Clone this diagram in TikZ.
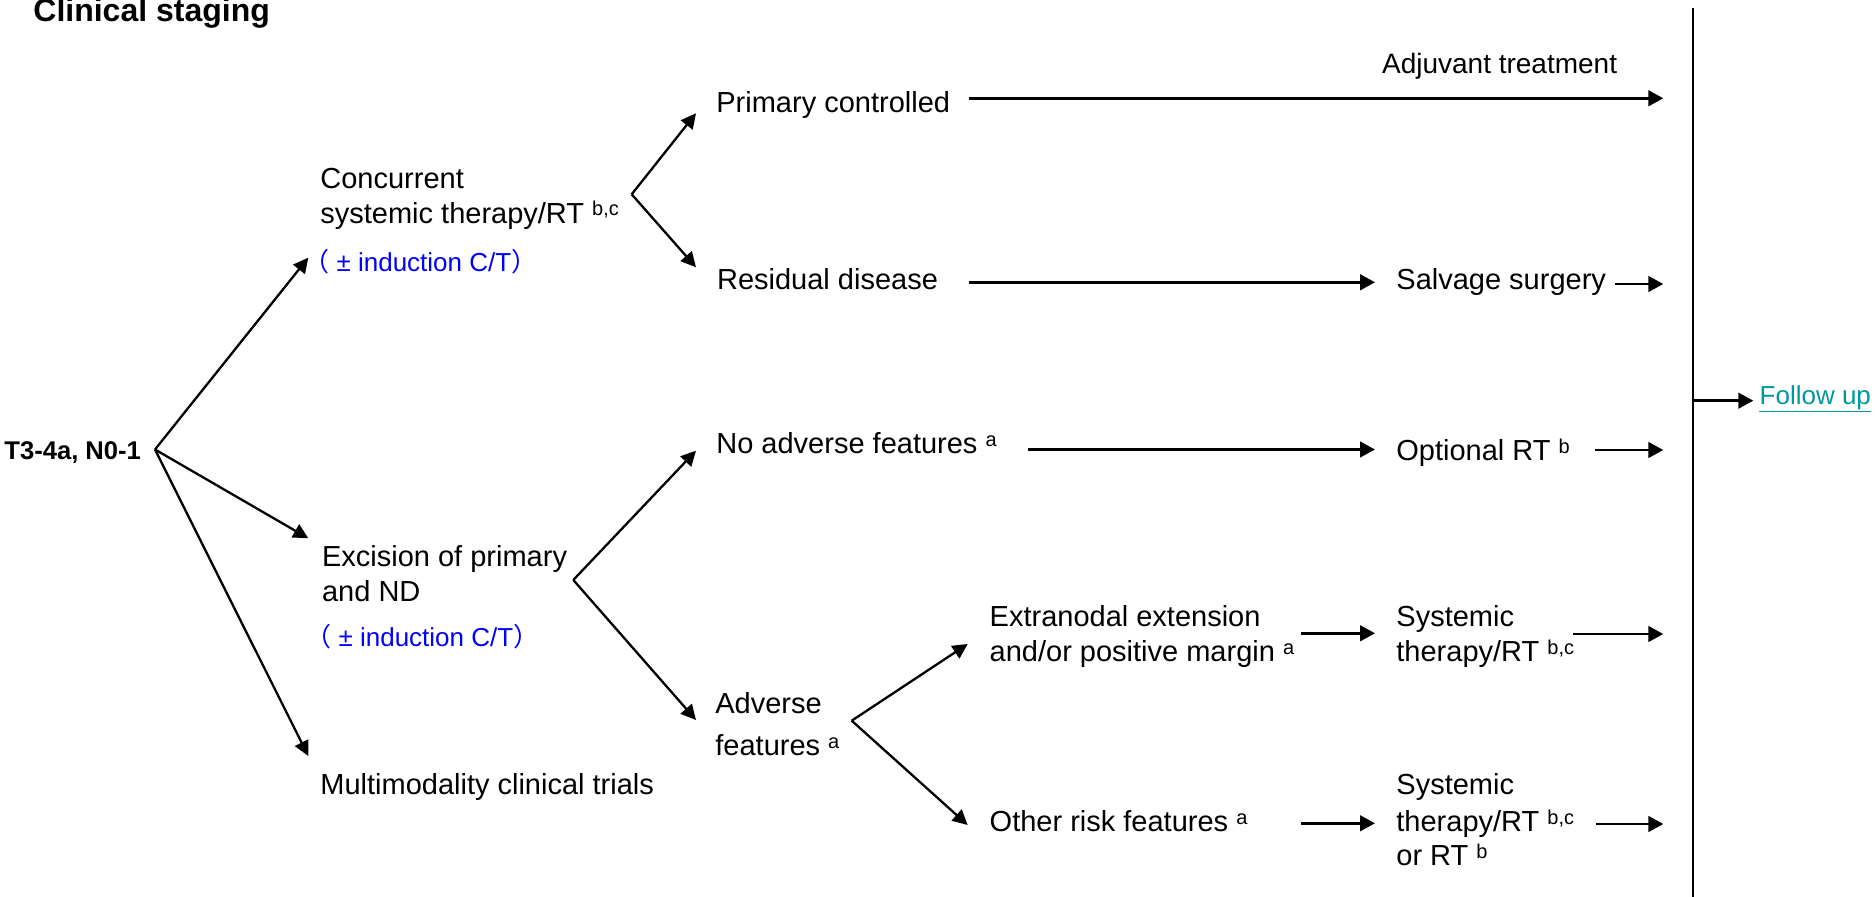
\documentclass[tikz,border=0pt]{standalone}
\usepackage{fontspec}
\setmainfont{Liberation Sans}
\newfontfamily\cjkfont{Noto Sans CJK SC}
\usetikzlibrary{arrows.meta}
\definecolor{cblue}{RGB}{0,0,255}
\definecolor{futeal}{RGB}{0,153,153}
\newcommand{\spx}[1]{\raisebox{3.65pt}{\fontsize{10}{10}\selectfont #1}}
\begin{document}
\begin{tikzpicture}[x=0.5pt,y=-0.5pt,
  txt/.style={anchor=base west, inner sep=0pt, font=\fontsize{14.5}{17}\selectfont},
  smalltxt/.style={txt, font=\fontsize{14}{17}\selectfont},
  bluetxt/.style={txt, text=cblue, font=\fontsize{13}{16}\selectfont},
  ttl/.style={txt, font=\fontsize{16}{19}\selectfont\bfseries},
  stage/.style={txt, font=\fontsize{12.8}{15}\selectfont\bfseries},
  linktxt/.style={txt, text=futeal, font=\fontsize{13}{16}\selectfont},
  harr/.style={line width=1.4pt, -{Triangle[length=7.5pt,width=7.8pt]}},
  darr/.style={line width=1.15pt, -{Triangle[length=7.5pt,width=7.4pt]}},
  vline/.style={line width=1.1pt}]
\useasboundingbox (0,0) rectangle (1876,897);

% ---- text nodes ----
\node[ttl] (title) at (33,21.7) {Clinical staging};
\node[stage] (t3) at (4,460) {T3-4a, N0-1};

\node[txt] (conc1) at (320,188.3) {Concurrent};
\node[txt] (conc2) at (320,223.3) {systemic therapy/RT \spx{b,c}};
\node[bluetxt] (conc3) at (303,271.7) {{\cjkfont （}\ ± induction C/T{\cjkfont ）}};

\node[txt] (exc1) at (321.7,566.7) {Excision of primary};
\node[txt] (exc2) at (321.7,601.7) {and ND};
\node[bluetxt] (exc3) at (305,646.7) {{\cjkfont （}\ ± induction C/T{\cjkfont ）}};

\node[txt] (multi) at (320,795) {Multimodality clinical trials};

\node[txt] (pc) at (716,112.7) {Primary controlled};
\node[txt] (rd) at (716.7,290) {Residual disease};
\node[txt] (naf) at (716,454) {No adverse features \spx{a}};
\node[txt] (adv1) at (715,713.3) {Adverse};
\node[txt] (adv2) at (715,756) {features \spx{a}};

\node[txt] (ext1) at (989.3,626.7) {Extranodal extension};
\node[txt] (ext2) at (989.3,661.7) {and/or positive margin \spx{a}};
\node[txt] (orf) at (989.3,831.7) {Other risk features \spx{a}};

\node[smalltxt] (adj) at (1381.7,74) {Adjuvant treatment};
\node[txt] (ss) at (1396,290) {Salvage surgery};
\node[txt] (ort) at (1396,460.7) {Optional RT \spx{b}};
\node[txt] (sys1) at (1396,626.7) {Systemic};
\node[txt] (sys2) at (1396,661.7) {therapy/RT \spx{b,c}};
\node[txt] (sysb1) at (1396,795) {Systemic};
\node[txt] (sysb2) at (1396,831.7) {therapy/RT \spx{b,c}};
\node[txt] (sysb3) at (1396,865.7) {or RT \spx{b}};

\node[linktxt] (fu) at (1759.3,405) {Follow up};
\draw[futeal, line width=0.6pt] ([yshift=-3.3pt]fu.base west) -- ([yshift=-3.3pt]fu.base east);

% ---- vertical collector line ----
\coordinate (vtop) at (1693.3,8.3);
\coordinate (vbot) at (1693.3,897);
\draw[vline] (vtop) -- (vbot);

% ---- branch points and diagonal arrows ----
\coordinate (v0) at (155,449.5);
\coordinate (tconc) at (308.3,257.7);
\coordinate (texc) at (308.3,538.3);
\coordinate (tmulti) at (308.3,756);
\draw[darr] (v0) -- (tconc);
\draw[darr] (v0) -- (texc);
\draw[darr] (v0) -- (tmulti);

\coordinate (v1) at (631.7,194.3);
\coordinate (tpc) at (696,113.3);
\coordinate (trd) at (696,267.3);
\draw[darr] (v1) -- (tpc);
\draw[darr] (v1) -- (trd);

\coordinate (v2) at (573.3,580);
\coordinate (tnaf) at (696,450.7);
\coordinate (tadv) at (696,720);
\draw[darr] (v2) -- (tnaf);
\draw[darr] (v2) -- (tadv);

\coordinate (v3) at (851.7,720.7);
\coordinate (text) at (967.7,644);
\coordinate (torf) at (967.7,825);
\draw[darr] (v3) -- (text);
\draw[darr] (v3) -- (torf);

% ---- horizontal arrows ----
\coordinate (pcR) at (969.3,98.3);
\draw[harr, shorten >=15pt] (pcR) -- (pcR -| vtop);

\coordinate (rdR) at (969.3,282.3);
\draw[harr, shorten >=10.5pt] (rdR) -- (rdR -| ss.west);
\coordinate (ssR) at (1615,284);
\draw[harr, shorten >=15pt] (ssR) -- (ssR -| vtop);

\coordinate (nafR) at (1028.3,449.5);
\draw[harr, shorten >=10.5pt] (nafR) -- (nafR -| ort.west);
\coordinate (ortR) at (1595,450);
\draw[harr, shorten >=15pt] (ortR) -- (ortR -| vtop);

\coordinate (extR) at (1301,633.3);
\draw[harr, shorten >=10.5pt] (extR) -- (extR -| sys1.west);
\coordinate (sysR) at (1572.7,634);
\draw[harr, shorten >=15pt] (sysR) -- (sysR -| vtop);

\coordinate (orfR) at (1301,823.3);
\draw[harr, shorten >=10.5pt] (orfR) -- (orfR -| sysb2.west);
\coordinate (sysbR) at (1596,824);
\draw[harr, shorten >=15pt] (sysbR) -- (sysbR -| vtop);

\coordinate (fuL) at (1693.3,400.7);
\draw[harr, shorten >=3pt] (fuL) -- (fuL -| fu.west);
\end{tikzpicture}
\end{document}
